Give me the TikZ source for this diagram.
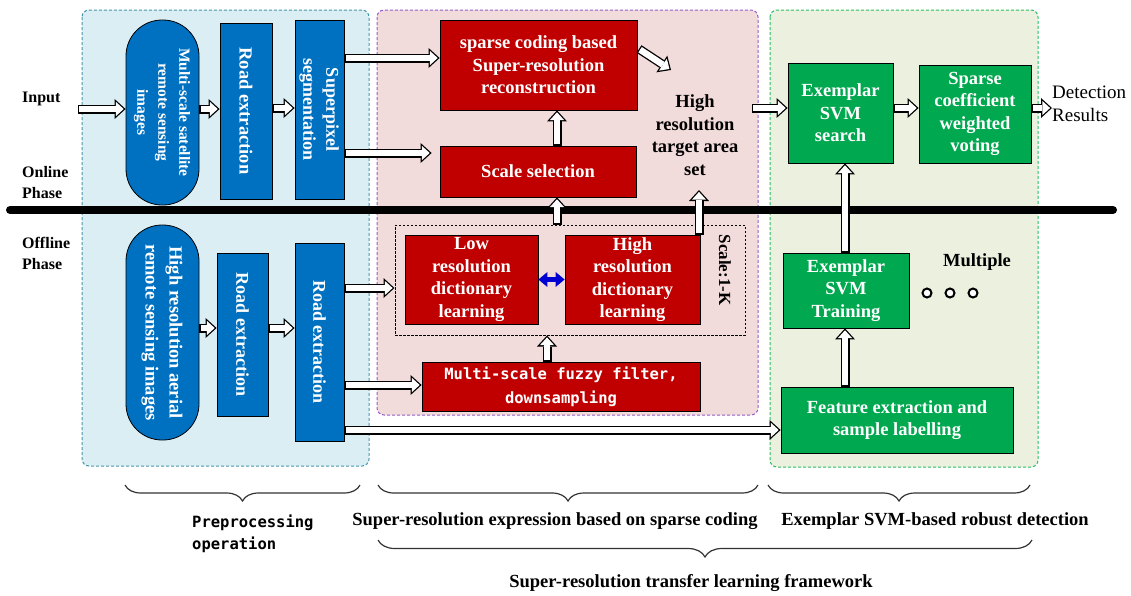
\documentclass[tikz,border=0pt]{standalone}
\usepackage{fontspec}
\setmainfont{Liberation Serif}
\newfontfamily\monof{DejaVu Sans Mono}
\usetikzlibrary{arrows.meta,decorations.pathreplacing,calc}

\definecolor{pblue}{RGB}{219,238,244}
\definecolor{pblueb}{RGB}{70,150,170}
\definecolor{ppink}{RGB}{242,220,219}
\definecolor{ppinkb}{RGB}{150,90,200}
\definecolor{pgreen}{RGB}{235,241,222}
\definecolor{pgreenb}{RGB}{40,190,100}
\definecolor{nblue}{RGB}{0,112,192}
\definecolor{nred}{RGB}{192,0,0}
\definecolor{ngreen}{RGB}{0,168,80}
\definecolor{arrblue}{RGB}{0,0,210}

\tikzset{
 panel/.style={rounded corners=7pt, dash pattern=on 3pt off 2pt, line width=1pt},
 box/.style={draw=black, line width=0.8pt, text=white, font=\bfseries\fontsize{18.5}{22.5}\selectfont, align=center, inner sep=0pt},
 bbox/.style={box, fill=nblue},
 rbox/.style={box, fill=nred},
 gbox/.style={box, fill=ngreen},
 barout/.style={draw=black, line width=9pt, -{Triangle[length=11pt,width=20pt,line width=0pt]}},
 barin/.style={draw=white, line width=6.4pt, shorten <=1.3pt, shorten >=1.9pt, -{Triangle[length=7.8pt,width=14.2pt,line width=0pt]}},
 lbl/.style={font=\bfseries\fontsize{16}{21}\selectfont, align=left, inner sep=0pt},
 ctext/.style={font=\bfseries\fontsize{18.5}{22.5}\selectfont, align=center, inner sep=0pt},
 brc/.style={decorate, line width=1.2pt, draw=black!80},
 btext/.style={font=\bfseries\fontsize{18.5}{22}\selectfont, inner sep=0pt},
 dots/.style={circle, draw=black, line width=2pt, fill=white, minimum size=9pt, inner sep=0pt},
}
\newcommand\barr[2]{\draw[barout] #1 -- #2; \draw[barin] #1 -- #2;}

\begin{document}
\begin{tikzpicture}[x=1pt,y=-1pt]
\useasboundingbox (0,0) rectangle (1131,595);

% panels
\draw[panel, fill=pblue, draw=pblueb] (82,10) rectangle (369,466);
\draw[panel, fill=ppink, draw=ppinkb] (377,10) rectangle (758,415);
\draw[panel, fill=pgreen, draw=pgreenb] (770,10) rectangle (1038,467);

% phase line
\draw[line width=8pt, line cap=round] (10,210) -- (1113,210);

% left labels
\node[lbl, anchor=west] (inp) at (22,99) {Input};
\node[lbl, anchor=west] (onl) at (22,182.5) {Online\\Phase};
\node[lbl, anchor=west] (off) at (22,253.5) {Offline\\Phase};

% preprocessing nodes
\node[bbox, rounded corners=36pt, minimum width=73pt, minimum height=185pt] (pill1) at (162.5,112.5)
 {\rotatebox{-90}{\fontsize{15.5}{21}\selectfont\begin{tabular}{@{}c@{}}Multi-scale satellite\\remote sensing\\images\end{tabular}}};
\node[bbox, minimum width=52pt, minimum height=176pt] (road1) at (246,111)
 {\rotatebox{-90}{\fontsize{18.5}{23}\selectfont Road extraction}};
\node[bbox, minimum width=49pt, minimum height=179pt] (seg) at (319.5,109.5)
 {\rotatebox{-90}{\fontsize{18}{23}\selectfont\begin{tabular}{@{}c@{}}Superpixel\\segmentation\end{tabular}}};

\node[bbox, rounded corners=36pt, minimum width=73pt, minimum height=215pt] (pill2) at (162.5,332.5)
 {\rotatebox{-90}{\fontsize{18.5}{24}\selectfont\begin{tabular}{@{}c@{}}High resolution aerial\\remote sensing images\end{tabular}}};
\node[bbox, minimum width=51pt, minimum height=163pt] (road2) at (242.5,334.5)
 {\rotatebox{-90}{\fontsize{18}{23}\selectfont Road extraction}};
\node[bbox, minimum width=49pt, minimum height=198pt] (road3) at (319.5,342)
 {\rotatebox{-90}{\fontsize{18}{23}\selectfont Road extraction}};

% super-resolution nodes
\node[rbox, minimum width=197pt, minimum height=90pt] (src) at (538.5,65)
 {sparse coding based\\Super-resolution\\reconstruction};
\node[rbox, minimum width=196pt, minimum height=51pt] (scale) at (538,171.5) {Scale selection};
\node[draw=black, line width=1pt, dash pattern=on 2.5pt off 1.5pt, minimum width=350pt, minimum height=110pt, inner sep=0pt] (dbox) at (570,280) {};
\node[rbox, minimum width=133pt, minimum height=89pt] (lowd) at (471.5,279.5)
 {Low\\resolution\\dictionary\\learning};
\node[rbox, minimum width=135pt, minimum height=89pt] (highd) at (632.5,279.5)
 {High\\resolution\\dictionary\\learning};
\node[font=\bfseries\fontsize{17}{18}\selectfont, rotate=-90, inner sep=0pt] (sk) at (725,270) {Scale:1-K};
\node[rbox, minimum width=278pt, minimum height=49pt, font=\monof\bfseries\fontsize{15.5}{24}\selectfont] (fuzzy) at (561,386.5)
 {Multi-scale fuzzy filter,\\downsampling};
\node[ctext] (hrs) at (695,135) {High\\resolution\\target area\\set};

% detection nodes
\node[gbox, minimum width=105pt, minimum height=100pt] (search) at (840.5,113) {Exemplar\\SVM\\search};
\node[gbox, minimum width=112pt, minimum height=98pt] (vote) at (975,114) {Sparse\\coefficient\\weighted\\voting};
\node[gbox, minimum width=126pt, minimum height=75pt] (train) at (846,290.5) {Exemplar\\SVM\\Training};
\node[gbox, minimum width=232pt, minimum height=66pt] (feat) at (897,420) {Feature extraction and\\sample labelling};
\node[ctext] (mult) at (977,262) {Multiple};
\node[dots] (d1) at (927,293) {};
\node[dots] (d2) at (950,293) {};
\node[dots] (d3) at (973,293) {};
\node[font=\fontsize{19}{23}\selectfont, align=left, anchor=west, inner sep=0pt] (det) at (1052,103.5) {Detection\\Results};

% free ends
\coordinate (inS) at (78,109);
\coordinate (hrtail) at (752,108);
\coordinate (hrhead) at (671,70);
\coordinate (srctail) at (639,49);
\coordinate (hrup) at (699,190);

% arrows online
\barr{(inS)}{(inS -| pill1.west)}
\barr{(pill1.east |- 0,109)}{(road1.west |- 0,109)}
\barr{(road1.east |- 0,108)}{(seg.west |- 0,108)}
\barr{(seg.east |- 0,58)}{(src.west |- 0,58)}
\barr{(seg.east |- 0,153)}{($(scale.west |- 0,153)+(-8,0)$)}
\barr{(557,0 |- scale.north)}{(557,0 |- src.south)}
\barr{(557,0 |- dbox.north)}{(557,0 |- scale.south)}
\barr{(srctail)}{(hrhead)}
\barr{(699,0 |- highd.north)}{(hrup)}
\barr{(hrtail)}{(search.west |- 0,108)}
\barr{(search.east |- 0,108)}{(vote.west |- 0,108)}
\barr{(vote.east |- 0,108)}{(det.west |- 0,108)}
% arrows offline
\barr{(pill2.east |- 0,328)}{(road2.west |- 0,328)}
\barr{(road2.east |- 0,328)}{(road3.west |- 0,328)}
\barr{(road3.east |- 0,288)}{(dbox.west |- 0,288)}
\barr{(road3.east |- 0,385)}{(fuzzy.west |- 0,385)}
\barr{(road3.east |- 0,430)}{(feat.west |- 0,430)}
\barr{(547,0 |- fuzzy.north)}{(547,0 |- dbox.south)}
\barr{(845,0 |- feat.north)}{(845,0 |- train.south)}
\barr{(845,0 |- train.north)}{(845,0 |- search.south)}
\draw[line width=5pt, draw=arrblue, {Triangle[length=9pt,width=15pt,line width=0pt]}-{Triangle[length=9pt,width=15pt,line width=0pt]}] (lowd.east) -- (highd.west);

% braces
\draw[brc, decoration={brace, mirror, amplitude=16pt}] (125,485) -- (360,485);
\draw[brc, decoration={brace, mirror, amplitude=16pt}] (378,485) -- (758,485);
\draw[brc, decoration={brace, mirror, amplitude=16pt}] (768,485) -- (1030,485);
\draw[brc, decoration={brace, mirror, amplitude=17pt}] (378,540) -- (1032,540);

\node[font=\monof\bfseries\fontsize{15.5}{22}\selectfont, align=left, anchor=west, inner sep=0pt] (pre) at (192,534) {Preprocessing\\operation};
\node[btext] (sre) at (555,521) {Super-resolution expression based on sparse coding};
\node[btext] (esv) at (935,521) {Exemplar SVM-based robust detection};
\node[btext] (srt) at (691,583) {Super-resolution transfer learning framework};
\end{tikzpicture}
\end{document}
